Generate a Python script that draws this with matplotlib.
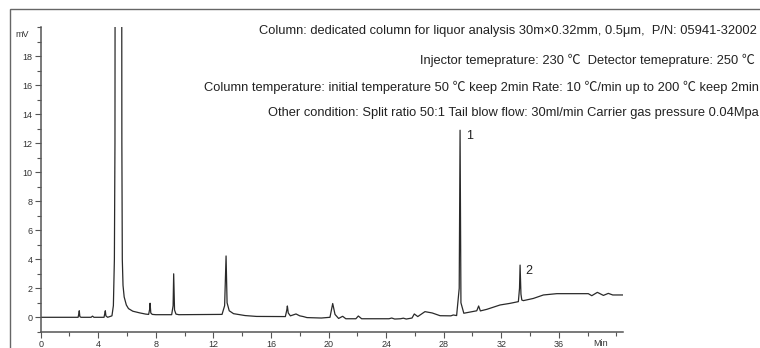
import matplotlib
matplotlib.use('Agg')
import matplotlib.pyplot as plt
from matplotlib.patches import Rectangle
from matplotlib.ticker import MultipleLocator

# retention time (min) and detector signal (mV)
time_min = [0.0, 2.6, 2.66, 2.68, 2.72, 2.8, 3.5, 3.6, 3.7, 4.4, 4.47, 4.49, 4.53, 4.65,
            4.95, 5.05, 5.12, 5.16, 5.2, 5.6, 5.64, 5.67, 5.72, 5.8, 5.95, 6.1, 6.4, 6.9,
            7.3, 7.5, 7.58, 7.6, 7.65, 7.75, 8.0, 9.1, 9.2, 9.24, 9.3, 9.4, 9.6, 12.6,
            12.78, 12.88, 12.95, 13.1, 13.4, 14.2, 15.0, 17.0, 17.1, 17.14, 17.2, 17.35,
            17.74, 18.0, 18.25, 18.5, 19.5, 20.1, 20.29, 20.45, 20.7, 20.98, 21.2, 21.9,
            22.07, 22.3, 24.2, 24.39, 24.6, 25.0, 25.2, 25.4, 25.8, 25.96, 26.2, 26.7,
            27.2, 27.75, 28.5, 28.67, 28.9, 29.08, 29.14, 29.2, 29.4, 30.3, 30.43, 30.55,
            31.0, 31.92, 32.6, 33.19, 33.27, 33.31, 33.37, 33.43, 33.54, 34.23, 34.93,
            35.86, 38.05, 38.29, 38.68, 39.1, 39.44, 39.75, 40.44]
signal_mv = [0.0, 0.0, 0.3, 0.45, 0.05, 0.0, 0.0, 0.08, 0.0, 0.0, 0.35, 0.45, 0.1, 0.0,
             0.1, 0.8, 4.0, 12.0, 60.0, 60.0, 12.0, 4.0, 2.2, 1.4, 0.85, 0.6, 0.42, 0.3,
             0.22, 0.2, 0.6, 0.97, 0.3, 0.2, 0.18, 0.18, 0.8, 3.0, 0.5, 0.22, 0.18, 0.2,
             0.8, 4.23, 1.0, 0.45, 0.25, 0.12, 0.06, 0.05, 0.5, 0.78, 0.3, 0.1,
             0.23, 0.1, 0.05, -0.02, -0.05, 0.0, 0.95, 0.2, -0.08, 0.07, -0.1, -0.1,
             0.09, -0.1, -0.1, -0.05, -0.12, -0.1, -0.06, -0.12, -0.05, 0.23, 0.05, 0.39,
             0.3, 0.11, 0.1, 0.16, 0.12, 2.0, 12.9, 1.0, 0.28, 0.45, 0.78, 0.44,
             0.55, 0.85, 0.96, 1.08, 2.0, 3.6, 1.6, 1.19, 1.15, 1.3, 1.54,
             1.63, 1.63, 1.49, 1.72, 1.51, 1.65, 1.54, 1.54]

x_ticks = [0, 4, 8, 12, 16, 20, 24, 28, 32, 36]
y_ticks = [0, 2, 4, 6, 8, 10, 12, 14, 16, 18]

info_lines = [
    'Column: dedicated column for liquor analysis 30m×0.32mm, 0.5μm,  P/N: 05941-32002',
    'Injector temeprature: 230 ℃  Detector temeprature: 250 ℃',
    'Column temperature: initial temperature 50 ℃ keep 2min Rate: 10 ℃/min up to 200 ℃ keep 2min',
    'Other condition: Split ratio 50:1 Tail blow flow: 30ml/min Carrier gas pressure 0.04Mpa',
]
peak_labels = ['1', '2']
peak_times = [29.14, 33.31]
peak_heights = [12.9, 3.6]

txt_font = ['Liberation Sans', 'Noto Sans CJK SC', 'DejaVu Sans']
tick_font = ['Liberation Sans', 'DejaVu Sans']

W, H = 760, 348
fig = plt.figure(figsize=(7.6, 3.48), dpi=100)

# outer frame (left and top edge visible)
fig.patches.append(Rectangle((10 / W, -0.1), 1.2, (H - 9) / H + 0.1, transform=fig.transFigure,
                             fill=False, edgecolor='#666666', linewidth=1.0))

ax = fig.add_axes([40.7 / W, (H - 331.8) / H, 582 / W, (331.8 - 27.3) / H])
ax.plot(time_min, signal_mv, color='#2a2a2a', linewidth=0.9)
ax.set_xlim(0, 40.44)
ax.set_ylim(-1, 20)

for s in ['top', 'right']:
    ax.spines[s].set_visible(False)
for s in ['left', 'bottom']:
    ax.spines[s].set_color('#555555')
    ax.spines[s].set_linewidth(1.1)

ax.set_xticks(x_ticks)
ax.set_yticks(y_ticks)
ax.xaxis.set_minor_locator(MultipleLocator(2))
ax.yaxis.set_minor_locator(MultipleLocator(1))
ax.tick_params(which='both', direction='out', color='#555555', width=0.8)
ax.tick_params(which='major', length=4, labelsize=6.5, labelcolor='#333333', pad=2)
ax.tick_params(which='minor', length=3)
for lab in ax.get_xticklabels() + ax.get_yticklabels():
    lab.set_family(tick_font)

ax.text(-0.032, 0.975, 'mV', transform=ax.transAxes, ha='center', va='center',
        fontsize=6.5, color='#333333', family=tick_font)
ax.text(38.9, -1.8, 'Min', ha='center', va='center', fontsize=6.5,
        color='#333333', family=tick_font, clip_on=False)

for lab, t, h in zip(peak_labels, peak_times, peak_heights):
    ax.annotate(lab, (t, h), xytext=(4, -4), textcoords='offset points',
                ha='left', va='center', fontsize=9, color='#222222', family=tick_font)

line_y = [31, 60, 87, 113]
line_x = [757, 755, 759, 759]
for s, xp, yp in zip(info_lines, line_x, line_y):
    fig.text(xp / W, 1 - yp / H, s, ha='right', va='center', fontsize=9.3,
             color='#222222', family=txt_font)

fig.savefig('out.png', dpi=100)
